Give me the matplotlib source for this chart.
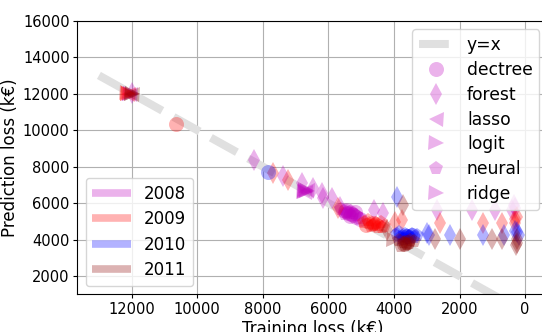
import matplotlib
matplotlib.use('Agg')
import matplotlib.pyplot as plt
from matplotlib.lines import Line2D

# models and the marker each one gets
models = ['dectree', 'forest', 'lasso', 'logit', 'neural', 'ridge']
markers = {'dectree': 'o', 'forest': 'd', 'lasso': '<', 'logit': '>', 'neural': 'p', 'ridge': '>'}

years = ['2008', '2009', '2010', '2011']
colors = {'2008': 'm', '2009': 'r', '2010': 'b', '2011': 'darkred'}

# training / prediction loss (k€) per model, one pair of dicts per year
train_2008 = {
    'dectree': [5500, 5400, 5300, 5200, 5350, 5250, 5450, 5150, 5050],
    'forest': [12000, 8260, 7370, 6810, 6460, 6200, 6150, 5890, 5640, 4620, 4320, 2690, 1620, 910, 400, 350, 300],
    'lasso': [12050, 6650, 6700],
    'logit': [12050, 6700, 6750, 6650],
    'neural': [5600, 5450, 5150, 5050, 5300, 5400, 5250, 5500],
    'ridge': [12050, 6700, 6720],
}
pred_2008 = {
    'dectree': [5550, 5450, 5400, 5500, 5300, 5350, 5600, 5250, 5150],
    'forest': [12050, 8370, 7510, 7090, 6820, 6540, 6270, 6270, 5810, 5630, 5450, 5620, 5620, 5620, 5620, 5900, 5750],
    'lasso': [12000, 6700, 6620],
    'logit': [12000, 6650, 6620, 6680],
    'neural': [5650, 5500, 5350, 5200, 5550, 5450, 5450, 5400],
    'ridge': [12000, 6700, 6600],
}

train_2009 = {
    'dectree': [10650, 4850, 4650],
    'forest': [7680, 7220, 5700, 3960, 3760, 2590, 1280, 700, 300, 300, 250],
    'lasso': [12100],
    'logit': [12100, 12150],
    'neural': [4900, 4750, 4600, 4450, 4300, 4700, 4500, 4400, 4800, 4550, 4650, 4350],
    'ridge': [12100],
}
pred_2009 = {
    'dectree': [10350, 4800, 4900],
    'forest': [7640, 7270, 5750, 4990, 5100, 4930, 4930, 4930, 4930, 5150, 5250],
    'lasso': [12000],
    'logit': [12000, 12050],
    'neural': [4950, 4900, 4850, 4800, 4750, 4750, 4700, 4950, 5050, 4900, 4800, 4700],
    'ridge': [12000],
}

train_2010 = {
    'dectree': [7830, 3600, 3450],
    'forest': [3910, 2990, 2940, 2300, 1280, 650, 200, 250, 300],
    'lasso': [3800],
    'logit': [3750],
    'neural': [3900, 3750, 3600, 3450, 3300, 3700, 3500, 3850, 3400, 3550, 3650],
    'ridge': [3650],
}
pred_2010 = {
    'dectree': [7690, 4200, 4250],
    'forest': [6360, 4350, 4260, 4260, 4260, 4260, 4260, 4400, 4450],
    'lasso': [4150],
    'logit': [4200],
    'neural': [4300, 4200, 4250, 4300, 4250, 4050, 4100, 4400, 4150, 4200, 4300],
    'ridge': [4100],
}

train_2011 = {
    'dectree': [3700, 3600],
    'forest': [3710, 4220, 2740, 2000, 1010, 700, 240, 250, 280],
    'lasso': [12000],
    'logit': [12000, 4000],
    'neural': [3850, 3700, 3550, 3400, 3650, 3800, 3500, 3600],
    'ridge': [12000],
}
pred_2011 = {
    'dectree': [3750, 3850],
    'forest': [5900, 4530, 4020, 4020, 4020, 4020, 4020, 3800, 3700],
    'lasso': [12000],
    'logit': [12000, 3950],
    'neural': [4000, 3850, 3800, 3900, 3700, 3650, 3950, 3750],
    'ridge': [12000],
}

train = {'2008': train_2008, '2009': train_2009, '2010': train_2010, '2011': train_2011}
pred = {'2008': pred_2008, '2009': pred_2009, '2010': pred_2010, '2011': pred_2011}

fig = plt.figure(figsize=(5.42, 3.32), dpi=100)
ax = fig.add_axes([0.1426, 0.1136, 0.8685, 0.824])

# reference diagonal
diag, = ax.plot([13000, 0], [13000, 0], '--', color='#e0e0e0', lw=5.8, zorder=1)

for y in years:
    for m in models:
        ax.plot(train[y][m], pred[y][m], linestyle='none', marker=markers[m],
                ms=10.8, color=colors[y], alpha=0.3, markeredgewidth=0, zorder=2)

ax.set_xlim(13660, -700)
ax.set_ylim(1000, 16000)
ax.set_xticks(range(0, 13000, 2000))
ax.set_yticks(range(2000, 17000, 2000))
ax.tick_params(labelsize=10.5, length=3, pad=2.5)
ax.grid(True)
ax.set_axisbelow(True)
ax.set_xlabel('Training loss (k€)', fontsize=12, labelpad=2)
ax.set_ylabel('Prediction loss (k€)', fontsize=12, labelpad=3)

model_handles = [diag] + [Line2D([], [], linestyle='none', marker=markers[m], ms=10.8,
                                 color='m', alpha=0.3, markeredgewidth=0) for m in models]
leg1 = ax.legend(model_handles, ['y=x'] + models, loc='upper right', fontsize=12.3,
                 labelspacing=0.4, handlelength=2.0)
ax.add_artist(leg1)

year_handles = [Line2D([], [], color=colors[y], alpha=0.3, lw=5.5, solid_capstyle='butt')
                for y in years]
ax.legend(year_handles, years, loc='lower left', fontsize=12, labelspacing=0.45,
          handlelength=2.3)

fig.savefig('out.png', dpi=100)
